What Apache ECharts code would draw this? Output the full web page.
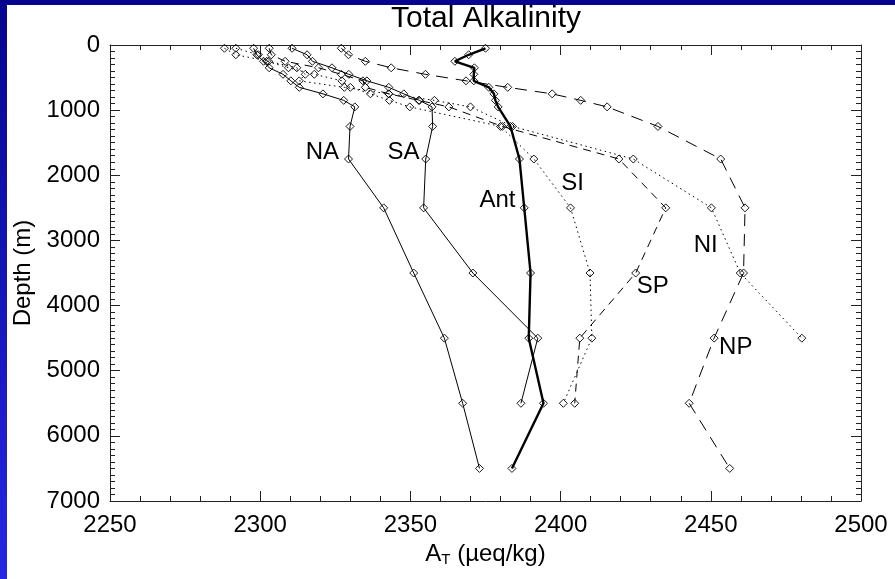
<!DOCTYPE html>
<html>
<head>
<meta charset="utf-8">
<script src="https://cdn.jsdelivr.net/npm/echarts@6/dist/echarts.min.js"></script>
<style>
html,body{margin:0;padding:0;background:#fff;}
#wrap{position:relative;width:895px;height:579px;overflow:hidden;background:#fff;}
#bandTop{position:absolute;left:0;top:0;width:895px;height:5px;background:#05058e;}
#bandLeft{position:absolute;left:0;top:0;width:7px;height:579px;background:linear-gradient(to bottom,#05058e,#2626e4);}
#chart{position:absolute;left:0;top:0;width:895px;height:579px;}
</style>
</head>
<body>
<div id="wrap"><div id="bandTop"></div><div id="bandLeft"></div><div id="chart"></div></div>
<script>
// Depth levels (m)
var depths = [50,150,250,350,450,550,650,750,850,950,1250,1750,2500,3500,4500,5500,6500];
// Total alkalinity (µeq/kg) per basin, one value per depth level (shorter arrays end shallower)
var NA  = [2297.8,2298.9,2301.1,2303.0,2307.6,2310.2,2313.0,2320.9,2327.8,2331.5,2329.9,2329.4,2341.1,2351.1,2361.3,2367.4,2373.0];
var SA  = [2310.6,2315.6,2317.4,2323.9,2329.5,2335.5,2342.8,2347.8,2353.0,2357.2,2357.4,2355.1,2354.4,2370.8,2392.4,2386.8];
var Ant = [2375.0,2369.4,2364.8,2371.3,2371.1,2371.1,2376.1,2377.8,2378.3,2379.2,2383.3,2386.3,2387.9,2390.0,2389.4,2394.3,2383.8];
var SI  = [2291.9,2299.4,2302.2,2309.4,2318.0,2327.2,2330.0,2336.7,2343.0,2349.8,2380.0,2391.1,2403.3,2409.8,2410.4,2400.9];
var NI  = [2288.1,2291.9,2302.8,2312.2,2315.0,2313.0,2328.0,2342.8,2358.0,2370.0,2384.0,2424.2,2450.2,2459.8,2480.3];
var SP  = [2303.0,2303.7,2308.3,2319.4,2327.0,2334.2,2335.0,2342.8,2352.8,2362.8,2380.6,2419.4,2435.0,2425.0,2406.4,2404.7];
var NP  = [2327.0,2329.4,2335.0,2343.6,2355.0,2368.5,2382.4,2397.2,2406.7,2415.5,2432.4,2453.3,2461.4,2460.9,2451.1,2442.8,2456.3];
// Curve labels: name, alkalinity, depth
var labelNames = ['NA','SA','Ant','SI','NI','SP','NP'];
var labelX     = [2320.7,2347.7,2379.0,2404.0,2448.3,2430.7,2458.3];
var labelY     = [1643,1643,2380,2118,3070,3700,4636];
// Axis ticks
var xTicks = {min:2250,max:2500,interval:50};
var yTicks = {min:0,max:7000,interval:1000};

var FONT = "'Liberation Sans', Arial, Helvetica, sans-serif";
function pairs(arr){ return arr.map(function(v,i){ return [v, depths[i]]; }); }
function mk(name, arr, type, width){
  return {
    name:name, type:'line', data:pairs(arr), xAxisIndex:0, yAxisIndex:0,
    symbol:'diamond', symbolSize:8, showAllSymbol:true, animation:false,
    lineStyle:{color:'#000', width:width, type:type},
    itemStyle:{color:'rgba(255,255,255,0)', borderColor:'#000', borderWidth:0.9},
    emphasis:{disabled:true}, z:3
  };
}
var dotted=[1.5,3.5], dashed=[8,6], longdash=[12,8];
var series = [
  mk('NA',NA,'solid',1), mk('SA',SA,'solid',1), mk('Ant',Ant,'solid',2.4),
  mk('SI',SI,dotted,1), mk('NI',NI,dotted,1), mk('SP',SP,dashed,1), mk('NP',NP,longdash,1),
  {type:'scatter', symbolSize:0, silent:true, animation:false, z:5,
   itemStyle:{color:'#000', opacity:1},
   data: labelNames.map(function(n,i){ return {value:[labelX[i],labelY[i]], name:n}; }),
   label:{show:true, position:'inside', formatter:'{b}', color:'#000', opacity:1, textBorderWidth:0, fontSize:24, fontFamily:FONT}}
];
function plain(v){ return String(v); }
function xAx(pos, showLabel){
  return {type:'value', position:pos, min:xTicks.min, max:xTicks.max, interval:xTicks.interval,
    axisLine:{show:true, onZero:false, lineStyle:{color:'#222',width:1}},
    axisTick:{show:true, inside:true, length:10, lineStyle:{color:'#222'}},
    minorTick:{show:true, splitNumber:5, length:5, lineStyle:{color:'#222'}},
    splitLine:{show:false}, minorSplitLine:{show:false},
    axisLabel:{show:showLabel, fontSize:24, color:'#000', fontFamily:FONT, margin:12, formatter:plain},
    name: showLabel ? 'A{sub|T} (µeq/kg)' : '', nameLocation:'middle', nameGap:35,
    nameTextStyle:{fontSize:24, color:'#000', fontFamily:FONT, rich:{sub:{fontSize:15, verticalAlign:'bottom', padding:[12,0,0,0], fontFamily:FONT, color:'#000'}}}
  };
}
function yAx(pos, showLabel){
  return {type:'value', position:pos, inverse:true, min:yTicks.min, max:yTicks.max, interval:yTicks.interval,
    axisLine:{show:true, onZero:false, lineStyle:{color:'#222',width:1}},
    axisTick:{show:true, inside:true, length:10, lineStyle:{color:'#222'}},
    minorTick:{show:true, splitNumber:10, length:5, lineStyle:{color:'#222'}},
    splitLine:{show:false}, minorSplitLine:{show:false},
    axisLabel:{show:showLabel, fontSize:24, color:'#000', fontFamily:FONT, margin:10, formatter:plain},
    name: showLabel ? 'Depth (m)' : '', nameLocation:'middle', nameGap:72, nameRotate:90,
    nameTextStyle:{fontSize:24, color:'#000', fontFamily:FONT}
  };
}
var chart = echarts.init(document.getElementById('chart'), null, {renderer:'canvas'});
chart.setOption({
  backgroundColor:'transparent',
  animation:false,
  grid:{left:110, right:34, top:45, bottom:78},
  xAxis:[xAx('bottom',true), xAx('top',false)],
  yAxis:[yAx('left',true), yAx('right',false)],
  graphic:[{type:'text', x:486, y:19, style:{text:'Total Alkalinity', font:'30px '+FONT, fill:'#000', align:'center', verticalAlign:'middle', textAlign:'center', textVerticalAlign:'middle'}}],
  series:series
});
</script>
</body>
</html>
